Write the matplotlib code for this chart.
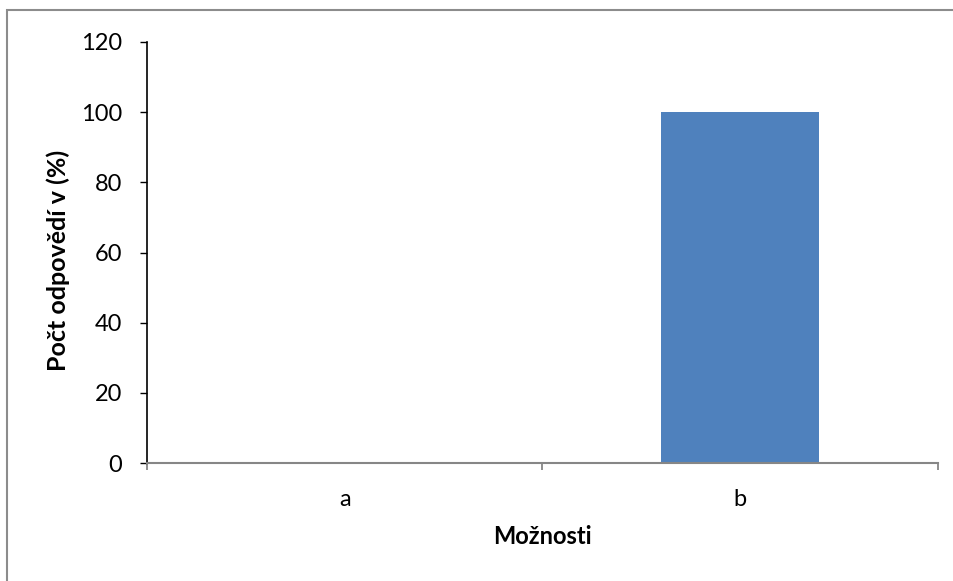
import matplotlib
matplotlib.use("Agg")
import matplotlib.pyplot as plt
from matplotlib.patches import Rectangle

categories = ["a", "b"]
values = [0, 100]
y_ticks = [0, 20, 40, 60, 80, 100, 120]

plt.rcParams['font.family'] = ['Lato', 'DejaVu Sans']

fig = plt.figure(figsize=(9.54, 5.81), dpi=100)
ax = fig.add_axes([147/954, 1 - 463/581, (938 - 147)/954, (463 - 42)/581])

x = list(range(len(categories)))
ax.bar(x, values, width=0.4, color="#4f81bd", zorder=2)

ax.set_xlim(-0.5, len(categories) - 0.5)
ax.set_ylim(0, 120)
ax.set_yticks(y_ticks)
ax.set_xticks(x)
ax.set_xticklabels(categories)
ax.set_xticks([i - 0.5 for i in range(len(categories) + 1)], minor=True)

ax.tick_params(axis="y", direction="out", length=5, width=1, color="black",
               labelsize=17, pad=13)
ax.tick_params(axis="x", which="major", length=0, labelsize=17, pad=19)
ax.tick_params(axis="x", which="minor", direction="out", length=5, width=1.3,
               color="#868686")

for s in ["top", "right"]:
    ax.spines[s].set_visible(False)
ax.spines["left"].set_color("black")
ax.spines["left"].set_linewidth(1.2)
ax.spines["bottom"].set_color("#868686")
ax.spines["bottom"].set_linewidth(1.5)

ax.set_ylabel("Počt odpovědí v (%)", fontsize=18, fontweight="bold")
ax.yaxis.set_label_coords(-0.097, 0.482)
ax.set_xlabel("Možnosti", fontsize=17, fontweight="bold")
ax.xaxis.set_label_coords(0.5, -0.148)

# chart frame
fig.patches.append(Rectangle((7/954, -0.1), 1.2, (581 - 10)/581 + 0.1,
                             transform=fig.transFigure, fill=False,
                             edgecolor="#8c8c8c", linewidth=1.5))

fig.savefig("out.png", dpi=100)
